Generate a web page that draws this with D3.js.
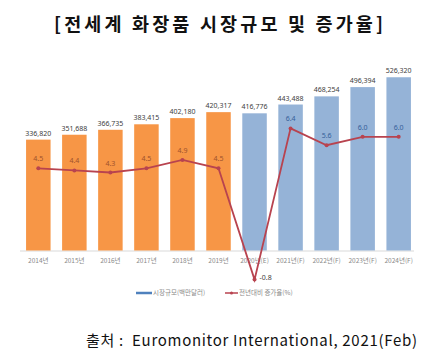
<!DOCTYPE html>
<html>
<head>
<meta charset="utf-8">
<script src="https://cdn.jsdelivr.net/npm/d3@7"></script>
<style>
  body { margin: 0; background: #fff; }
  svg { display: block; }
</style>
</head>
<body>
<script>
  const years = ['2014년', '2015년', '2016년', '2017년', '2018년', '2019년',
    '2020년(E)', '2021년(F)', '2022년(F)', '2023년(F)', '2024년(F)']
  const marketSize = [336820, 351688, 366735, 383415, 402180, 420317,
    416776, 443488, 468254, 496394, 526320]
  const growth = [4.5, 4.4, 4.3, 4.5, 4.9, 4.5, -0.8, 6.4, 5.6, 6.0, 6.0]
  const actualCount = 6 // first six bars are actual values (orange)
  const legendLabels = ['시장규모(백만달러)', '전년대비 증가율(%)']

  const width = 427
  const height = 359
  const orange = '#f79646'
  const blue = '#95b3d7'
  const red = '#b8434f'

  const svg = d3.select('body').append('svg')
    .attr('width', width)
    .attr('height', height)

  svg.append('text')
    .attr('x', 54)
    .attr('y', 30.5)
    .attr('textLength', 329)
    .attr('lengthAdjust', 'spacing')
    .attr('font-family', '"Noto Sans CJK KR", sans-serif')
    .attr('font-weight', 'bold')
    .attr('font-size', '18.5px')
    .attr('fill', '#111')
    .text('[전세계 화장품 시장규모 및 증가율]')

  const x = d3.scaleBand()
    .domain(years)
    .range([20.3, 416.7])
    .paddingInner(0.32)
    .paddingOuter(0.16)

  const y = d3.scaleLinear().domain([0, 600000]).range([250.5, 53])
  const yLine = d3.scaleLinear().domain([-1, 9]).range([283.8, 73.8])

  // x axis line
  svg.append('line')
    .attr('x1', 20).attr('x2', 414)
    .attr('y1', y(0) + 0.5).attr('y2', y(0) + 0.5)
    .attr('stroke', '#d9d9d9')
    .attr('stroke-width', 1)

  svg.selectAll('rect.bar')
    .data(marketSize)
    .enter()
    .append('rect')
    .attr('class', 'bar')
    .attr('x', function (d, i) { return x(years[i]) })
    .attr('y', function (d) { return y(d) })
    .attr('width', x.bandwidth())
    .attr('height', function (d) { return y(0) - y(d) })
    .attr('fill', function (d, i) { return i < actualCount ? orange : blue })

  svg.selectAll('text.val')
    .data(marketSize)
    .enter()
    .append('text')
    .attr('class', 'val')
    .attr('x', function (d, i) { return x(years[i]) + x.bandwidth() / 2 })
    .attr('y', function (d) { return y(d) - 4 })
    .attr('text-anchor', 'middle')
    .attr('font-family', '"Noto Sans", sans-serif')
    .attr('font-size', '7px')
    .attr('fill', '#404040')
    .text(function (d) { return d3.format(',')(d) })

  svg.selectAll('text.year')
    .data(years)
    .enter()
    .append('text')
    .attr('class', 'year')
    .attr('x', function (d) { return x(d) + x.bandwidth() / 2 })
    .attr('y', 262.5)
    .attr('text-anchor', 'middle')
    .attr('font-family', '"Noto Sans CJK KR", sans-serif')
    .attr('font-size', '6.5px')
    .attr('fill', '#8a8a8a')
    .text(function (d) { return d })

  const line = d3.line()
    .x(function (d, i) { return x(years[i]) + x.bandwidth() / 2 })
    .y(function (d) { return yLine(d) })

  svg.append('path')
    .datum(growth)
    .attr('d', line)
    .attr('fill', 'none')
    .attr('stroke', red)
    .attr('stroke-width', 1.8)

  svg.selectAll('circle.pt')
    .data(growth)
    .enter()
    .append('circle')
    .attr('class', 'pt')
    .attr('cx', function (d, i) { return x(years[i]) + x.bandwidth() / 2 })
    .attr('cy', function (d) { return yLine(d) })
    .attr('r', 2)
    .attr('fill', red)

  svg.selectAll('text.growth')
    .data(growth)
    .enter()
    .append('text')
    .attr('class', 'growth')
    .attr('x', function (d, i) {
      const cx = x(years[i]) + x.bandwidth() / 2
      return d < 0 ? cx + 5 : cx
    })
    .attr('y', function (d) { return d < 0 ? yLine(d) : yLine(d) - 7 })
    .attr('text-anchor', function (d) { return d < 0 ? 'start' : 'middle' })
    .attr('font-family', '"Noto Sans", sans-serif')
    .attr('font-size', '7px')
    .attr('fill', function (d, i) {
      if (d < 0) return '#404040'
      return i < actualCount ? '#a0522d' : '#35619a'
    })
    .text(function (d) { return d.toFixed(1) })

  // legend
  const legend = svg.append('g').attr('transform', 'translate(0,293)')
  legend.append('line')
    .attr('x1', 136).attr('x2', 152).attr('y1', 0).attr('y2', 0)
    .attr('stroke', '#4f81bd').attr('stroke-width', 2.5)
  legend.append('text')
    .attr('x', 153).attr('y', 2.3)
    .attr('font-family', '"Noto Sans CJK KR", sans-serif')
    .attr('font-size', '6.5px')
    .attr('fill', '#8a8a8a')
    .text(legendLabels[0])
  legend.append('line')
    .attr('x1', 225).attr('x2', 238).attr('y1', 0).attr('y2', 0)
    .attr('stroke', red).attr('stroke-width', 1.5)
  legend.append('circle')
    .attr('cx', 231.5).attr('cy', 0).attr('r', 1.5).attr('fill', red)
  legend.append('text')
    .attr('x', 239).attr('y', 2.3)
    .attr('font-family', '"Noto Sans CJK KR", sans-serif')
    .attr('font-size', '6.5px')
    .attr('fill', '#8a8a8a')
    .text(legendLabels[1])

  // source
  svg.append('text')
    .attr('x', 86)
    .attr('y', 346)
    .attr('textLength', 331)
    .attr('lengthAdjust', 'spacing')
    .attr('font-family', '"Noto Sans CJK KR", sans-serif')
    .attr('font-size', '15px')
    .attr('fill', '#111')
    .attr('xml:space', 'preserve')
    .text('출처 :  Euromonitor International, 2021(Feb)')
</script>
</body>
</html>
